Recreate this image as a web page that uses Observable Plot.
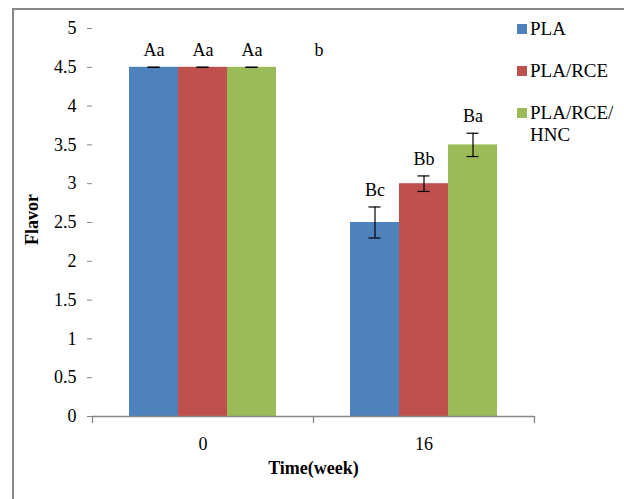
<!DOCTYPE html>
<html>
<head>
<meta charset="utf-8">
<script src="https://cdn.jsdelivr.net/npm/d3@7"></script>
<script src="https://cdn.jsdelivr.net/npm/@observablehq/plot@0.6"></script>
<style>
  body { margin: 0; background: #fff; font-family: "Liberation Serif", "Times New Roman", serif; }
  #wrap { position: relative; width: 624px; height: 499px; overflow: hidden; background: #fff; }
  #border { position: absolute; left: 12px; top: 8px; width: 700px; height: 600px;
            border-left: 2px solid #878787; border-top: 2px solid #878787; pointer-events: none; }
  #chart { position: absolute; left: 0; top: 0; }
  #chart svg text { font-family: "Liberation Serif", "Times New Roman", serif; }
  #legend { position: absolute; left: 517px; top: 18px; font-size: 19px; color: #000;
            font-family: "Liberation Serif", "Times New Roman", serif; }
  .item { position: absolute; left: 0; white-space: nowrap; line-height: 22px; }
  .sw { position: absolute; left: 0; width: 10px; height: 10px; }
  .lab { position: absolute; left: 13px; top: 0; }
</style>
</head>
<body>
<div id="wrap">
  <div id="chart"></div>
  <div id="border"></div>
  <div id="legend"></div>
</div>
<script>
// ---- data ----
const weeks = ["0", "16"];
const series = ["PLA", "PLA/RCE", "PLA/RCE/HNC"];
const legendLabels = [["PLA"], ["PLA/RCE"], ["PLA/RCE/", "HNC"]];
const colors = ["#4F81BD", "#C0504D", "#9BBB59"];
const plaValues = [4.5, 2.5];
const plaRceValues = [4.5, 3.0];
const plaRceHncValues = [4.5, 3.5];
const plaErrors = [0, 0.2];
const plaRceErrors = [0, 0.1];
const plaRceHncErrors = [0, 0.15];
const plaLetters = ["Aa", "Bc"];
const plaRceLetters = ["Aa", "Bb"];
const plaRceHncLetters = ["Aa", "Ba"];
const strayLabel = "b";
const yTicks = [0, 0.5, 1, 1.5, 2, 2.5, 3, 3.5, 4, 4.5, 5];
const yLabel = "Flavor";
const xLabel = "Time(week)";

// ---- table ----
const valueSets = [plaValues, plaRceValues, plaRceHncValues];
const errorSets = [plaErrors, plaRceErrors, plaRceHncErrors];
const letterSets = [plaLetters, plaRceLetters, plaRceHncLetters];
const rows = [];
weeks.forEach((w, i) => series.forEach((s, j) => rows.push({
  week: w, series: s, v: valueSets[j][i], e: errorSets[j][i], letter: letterSets[j][i]
})));

const tickShape = { draw(context, l) { context.moveTo(0, 0); context.lineTo(0, -l); } };
const FONT = '"Liberation Serif", "Times New Roman", serif';
const FS = 18;

const chart = Plot.plot({
  width: 624, height: 499,
  marginLeft: 92, marginRight: 90, marginTop: 28, marginBottom: 83,
  style: { fontFamily: FONT, fontSize: FS + "px", color: "#000", background: "transparent" },
  fx: { domain: weeks, padding: 0, label: null, axis: null },
  x: { domain: series, paddingInner: 0, paddingOuter: 0.747, axis: null },
  y: { domain: [0, 5], label: null },
  color: { domain: series, range: colors },
  marks: [
    Plot.barY(rows, { fx: "week", x: "series", y: "v", fill: "series" }),
    Plot.ruleY([0], { stroke: "#868686", strokeWidth: 1.3 }),
    Plot.axisY({ ticks: yTicks, tickFormat: d => String(d), tickSize: 5, tickPadding: 11,
                 line: true, stroke: "#868686", fill: "#000", label: null, fontSize: FS }),
    Plot.axisFx({ anchor: "bottom", tickSize: 0, tickPadding: 21, label: null, fontSize: FS, fill: "#000" }),
    Plot.vector(weeks, { fx: d => d, frameAnchor: "bottom-left", length: 6, rotate: 180,
                         anchor: "start", shape: tickShape, stroke: "#868686", strokeWidth: 1.3 }),
    Plot.vector(weeks.slice(-1), { fx: d => d, frameAnchor: "bottom-right", length: 6, rotate: 180,
                         anchor: "start", shape: tickShape, stroke: "#868686", strokeWidth: 1.3 }),
    Plot.ruleX(rows, { fx: "week", x: "series", y1: d => d.v - d.e, y2: d => d.v + d.e,
                       stroke: "#000", strokeWidth: 1.2 }),
    Plot.tickY(rows, { fx: "week", x: "series", y: d => d.v + d.e, insetLeft: 18.5, insetRight: 18.5,
                       stroke: "#000", strokeWidth: 1.2 }),
    Plot.tickY(rows, { fx: "week", x: "series", y: d => d.v - d.e, insetLeft: 18.5, insetRight: 18.5,
                       stroke: "#000", strokeWidth: 1.2 }),
    Plot.text(rows, { fx: "week", x: "series", y: d => d.v + d.e, text: "letter", dy: -17,
                      fontSize: FS, fill: "#000" }),
    Plot.text([strayLabel], { fx: () => weeks[1], frameAnchor: "left", y: () => plaValues[0],
                      text: d => d, dy: -17, dx: 1, textAnchor: "start", fontSize: FS, fill: "#000" }),
    Plot.text([yLabel], { fx: () => weeks[0], frameAnchor: "left", text: d => d, rotate: -90,
                      dx: -60, dy: -3, textAnchor: "middle", lineAnchor: "middle",
                      fontSize: FS, fontWeight: "bold", fill: "#000" }),
    Plot.text([xLabel], { fx: () => weeks[1], frameAnchor: "bottom-left", text: d => d, dy: 52,
                      textAnchor: "middle", lineAnchor: "middle",
                      fontSize: FS, fontWeight: "bold", fill: "#000" })
  ]
});
document.getElementById("chart").appendChild(chart);

// ---- legend ----
const legend = document.getElementById("legend");
legendLabels.forEach((lines, i) => {
  const item = document.createElement("div");
  item.className = "item";
  item.style.top = (i * 42) + "px";
  const sw = document.createElement("div");
  sw.className = "sw";
  sw.style.background = colors[i];
  sw.style.top = "6px";
  const lab = document.createElement("div");
  lab.className = "lab";
  lab.innerHTML = lines.join("<br>");
  item.appendChild(sw);
  item.appendChild(lab);
  legend.appendChild(item);
});
</script>
</body>
</html>
